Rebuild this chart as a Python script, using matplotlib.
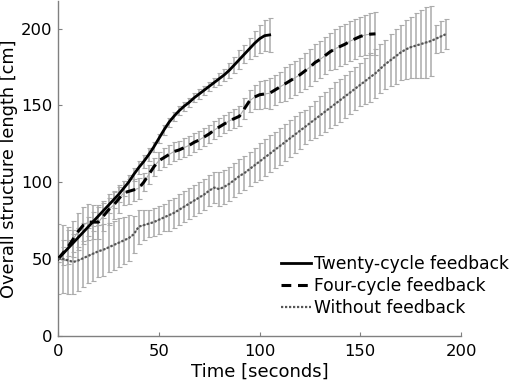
import matplotlib

matplotlib.use("Agg")
import matplotlib.pyplot as plt  # noqa: E402
import numpy as np  # noqa: E402

# Sampling times (seconds), 2.5 s steps
t_twenty = np.arange(0, 105.1, 2.5)
t_four = np.arange(0, 157.6, 2.5)
t_none = np.arange(0, 192.6, 2.5)

# Twenty-cycle feedback: mean length [cm] and error half-width
twenty_mean = [50, 53.5, 57, 60.5, 64, 67.5, 71, 74.5, 78, 81.5, 85, 88.5, 92,
               96, 100, 105, 109.5, 113.5, 118, 123, 128.5, 134, 139, 143,
               146.5, 149.5, 152, 155, 157.5, 160, 162.5, 165, 167.5, 170, 173,
               176.5, 180, 183.5, 187, 190.5, 193.5, 195.5, 196]
twenty_err = [2, 4, 5, 6, 6, 6, 6, 6, 6, 5, 5, 5, 5, 5, 5, 4, 4, 4, 4, 3, 3, 3,
              3, 3, 3, 3, 3, 3, 3, 3, 3, 3, 4, 4, 5, 5, 6, 6, 7, 8, 9, 10, 11]

# Four-cycle feedback
four_mean = [50, 54, 58, 63, 68, 72, 74, 74, 74, 78, 82, 85, 89, 93, 94, 95, 96,
             100, 105, 110, 114, 116, 118, 120, 121, 122.5, 124, 126, 127.5,
             129.5, 131.5, 134, 136, 138, 140, 141.5, 143, 148, 153, 155.5, 157,
             157.5, 158, 160, 162, 164, 166, 168, 170, 172.5, 175, 178, 180,
             182.5, 185, 187, 188.5, 190, 192, 193.5, 195, 196, 196.5, 196.7]
four_err = [2, 8, 11, 12, 12, 12, 12, 11, 11, 10, 10, 9, 9, 8, 8, 7, 7, 6, 6, 6,
            6, 6, 6, 6, 6, 6, 6, 6, 6, 6, 6, 6, 6, 6, 6, 6, 6.5, 7, 7, 8, 9, 9,
            10, 10, 10, 11, 11, 11, 11, 12, 12, 12, 12, 12, 12, 13, 13, 13, 13,
            13, 13, 13, 13.5, 14]

# Without feedback
none_mean = [50, 50, 49, 48, 49, 50.5, 52, 53.5, 55, 56, 57.5, 59, 60.5, 62,
             63.5, 66, 71, 72, 73, 74, 75.5, 77, 78.5, 80, 82, 84, 86, 88, 90,
             92, 94.5, 96.5, 95.5, 97, 99, 101.5, 104, 106, 108.5, 111, 113.5,
             116, 118.5, 121, 123.5, 126, 128.5, 131, 133.5, 136, 138.5, 141,
             143.5, 146, 148.5, 151, 153.5, 156, 158.5, 161, 163.5, 166, 168.5,
             171, 174, 177, 179.5, 182, 184.5, 186.5, 188, 189, 190, 191, 192,
             193.5, 195, 196.5]
none_err = [23, 22, 22, 21, 20, 19, 18, 18, 17, 17, 16, 16, 16, 15, 15, 12, 11,
            10, 9, 9, 9, 9, 10, 10, 10, 10, 10, 10, 10, 10, 10, 10, 11, 11, 11,
            11, 11, 11, 11, 11, 12, 12, 12, 12, 12, 12, 12, 12, 12, 11, 11, 12,
            13, 13, 13, 14, 14, 14, 14, 14, 14, 15, 16, 16, 16, 16, 17, 18, 18,
            19, 20, 21, 22, 23, 23, 9, 10, 10]

series = [
    (t_twenty, twenty_mean, twenty_err, "Twenty-cycle feedback",
     dict(color="black", lw=2.0, ls="-")),
    (t_four, four_mean, four_err, "Four-cycle feedback",
     dict(color="black", lw=2.2, ls=(0, (3.2, 2.2)))),
    (t_none, none_mean, none_err, "Without feedback",
     dict(color="#555555", lw=1.6, ls=(0, (1, 0.8)))),
]

fig = plt.figure(figsize=(5.1, 3.88), dpi=100)
ax = fig.add_axes([0.114, 0.135, 0.790, 0.862])

for t, m, e, label, style in series:
    ax.errorbar(t, m, yerr=e, color="#ababab", lw=0.8, elinewidth=1.1,
                capsize=1.8, capthick=0.8, zorder=1)
for t, m, e, label, style in series:
    ax.plot(t, m, label=label, zorder=3, **style)

ax.set_xlim(0, 200)
ax.set_ylim(0, 218)
ax.set_xticks([0, 50, 100, 150, 200])
ax.set_yticks([0, 50, 100, 150, 200])
for side in ("top", "right"):
    ax.spines[side].set_visible(False)
for side in ("left", "bottom"):
    ax.spines[side].set_color("#808080")
    ax.spines[side].set_linewidth(1.0)
ax.tick_params(direction="in", length=3, color="#808080", labelsize=11.8,
               pad=4)
ax.tick_params(axis="x", pad=6)

ax.set_xlabel("Time [seconds]", fontsize=13, labelpad=3)
ax.set_ylabel("Overall structure length [cm]", fontsize=12.8, labelpad=2)

ax.legend(loc="lower right", bbox_to_anchor=(1.14, 0.03), frameon=False,
          fontsize=12.3, handlelength=1.75, handletextpad=0.15,
          labelspacing=0.25, borderaxespad=0.1)

fig.savefig("out.png", dpi=100)
